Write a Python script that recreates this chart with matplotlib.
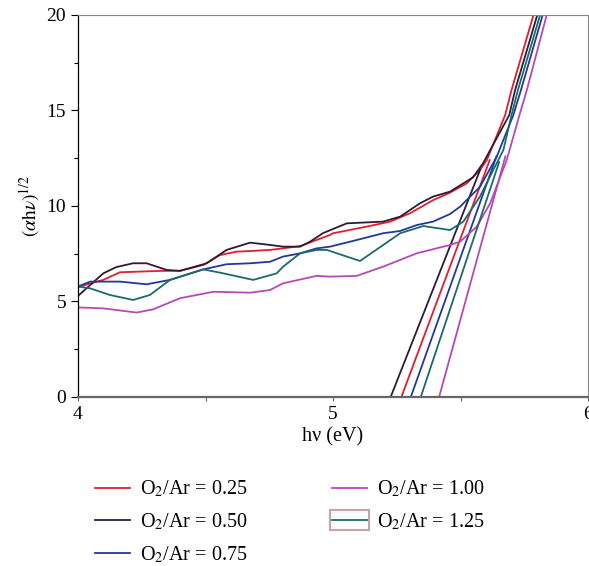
import numpy as np
import matplotlib
matplotlib.use('Agg')
import matplotlib.pyplot as plt
from matplotlib.patches import Rectangle
from matplotlib.ticker import MultipleLocator

plt.rcParams['font.family'] = ['Liberation Serif', 'DejaVu Serif']
plt.rcParams['mathtext.fontset'] = 'stix'

# Tauc curves: (hv in eV, (alpha h nu)^1/2)
x_025 = [4.0, 4.099, 4.165, 4.322, 4.400, 4.491, 4.557, 4.622, 4.675, 4.753, 4.804, 4.871,
         4.988, 5.0, 5.132, 5.224, 5.302, 5.392, 5.459, 5.524, 5.576, 5.603, 5.675, 5.70, 5.786]
y_025 = [5.76, 6.13, 6.53, 6.6, 6.61, 6.91, 7.43, 7.61, 7.64, 7.7, 7.78, 7.9,
         8.48, 8.57, 8.92, 9.18, 9.62, 10.3, 10.7, 11.18, 11.88, 12.4, 14.76, 16.07, 20.0]

x_050 = [4.0, 4.099, 4.15, 4.216, 4.269, 4.348, 4.400, 4.505, 4.583, 4.675, 4.753, 4.804, 4.871,
         4.910, 4.961, 5.054, 5.196, 5.263, 5.341, 5.392, 5.459, 5.549, 5.588, 5.691, 5.714, 5.801]
y_050 = [5.29, 6.47, 6.8, 7.0, 7.0, 6.65, 6.6, 7.0, 7.7, 8.08, 7.96, 7.87, 7.87,
         8.13, 8.58, 9.09, 9.18, 9.44, 10.14, 10.49, 10.75, 11.5, 12.23, 14.76, 16.07, 20.0]

x_075 = [4.0, 4.047, 4.165, 4.269, 4.361, 4.491, 4.583, 4.675, 4.753, 4.804, 4.871, 4.936,
         4.988, 5.067, 5.196, 5.263, 5.328, 5.392, 5.459, 5.498, 5.576, 5.642, 5.707, 5.737, 5.822]
y_075 = [5.78, 6.04, 6.04, 5.9, 6.13, 6.68, 6.95, 7.0, 7.08, 7.35, 7.52, 7.78,
         7.87, 8.13, 8.57, 8.69, 9.0, 9.18, 9.58, 9.96, 11.0, 12.58, 14.76, 16.07, 20.0]

x_100 = [4.0, 4.099, 4.230, 4.295, 4.400, 4.531, 4.675, 4.753, 4.804, 4.871, 4.936, 4.988,
         5.093, 5.196, 5.328, 5.459, 5.498, 5.564, 5.616, 5.681, 5.731, 5.760, 5.838]
y_100 = [4.69, 4.64, 4.42, 4.59, 5.17, 5.51, 5.46, 5.6, 5.95, 6.15, 6.34, 6.3,
         6.34, 6.82, 7.52, 7.96, 8.13, 8.92, 10.14, 12.4, 14.76, 16.07, 20.0]

x_125 = [4.0, 4.047, 4.125, 4.216, 4.282, 4.361, 4.491, 4.557, 4.687, 4.779, 4.804, 4.871,
         4.936, 4.975, 5.106, 5.263, 5.354, 5.459, 5.511, 5.576, 5.668, 5.700, 5.725, 5.812]
y_125 = [5.78, 5.69, 5.34, 5.08, 5.34, 6.13, 6.68, 6.51, 6.13, 6.47, 6.82, 7.52,
         7.7, 7.7, 7.12, 8.57, 8.95, 8.74, 9.18, 10.49, 12.93, 14.76, 16.07, 20.0]

# linear extrapolations: x-intercept (band gap), slope, top end of the line
fit_x0 = [5.268, 5.226, 5.305, 5.416, 5.344]
fit_slope = [35.8, 33.9, 37.5, 48.5, 40.0]
fit_ytop = [12.4, 11.9, 12.6, 12.6, 12.3]

labels = ['0.25', '0.50', '0.75', '1.00', '1.25']
colors = ['#e31d2f', '#2e1b35', '#22389c', '#b34ab6', '#1b6a6a']

curves = [(x_025, y_025), (x_050, y_050), (x_075, y_075), (x_100, y_100), (x_125, y_125)]

fig = plt.figure(figsize=(5.89, 5.66), dpi=100)
ax = fig.add_axes([0.1324, 0.2986, 0.866, 0.675])

handles = []
for (xs, ys), x0, k, yt, lab, c in zip(curves, fit_x0, fit_slope, fit_ytop, labels, colors):
    h, = ax.plot(xs, ys, color=c, lw=1.3, label=r'O$_2$/Ar = ' + lab)
    ax.plot([x0, x0 + yt / k], [0, yt], color=c, lw=1.3)
    handles.append(h)

ax.set_xlim(4, 6)
ax.set_ylim(0, 20)
ax.xaxis.set_major_locator(MultipleLocator(1))
ax.xaxis.set_minor_locator(MultipleLocator(0.5))
ax.yaxis.set_major_locator(MultipleLocator(5))
ax.yaxis.set_minor_locator(MultipleLocator(2.5))
ax.tick_params(axis='both', which='both', direction='out', labelsize=14)
ax.tick_params(axis='y', which='major', length=5, width=0.8)
ax.tick_params(axis='y', which='minor', length=3, width=0.8)
ax.tick_params(axis='x', which='both', length=3, width=0.8, color='#666666')
for s in ['top', 'right']:
    ax.spines[s].set_color('#888888')
    ax.spines[s].set_linewidth(0.8)
ax.spines['bottom'].set_color('#666666')
ax.spines['bottom'].set_linewidth(1.6)
ax.spines['left'].set_linewidth(0.9)

ax.set_xlabel('hν (eV)', fontsize=14.5, labelpad=3)
ax.set_ylabel(r'$(\alpha\mathrm{h}\nu)^{1/2}$', fontsize=14, labelpad=3)

leg = fig.legend(handles=handles, loc='upper left', bbox_to_anchor=(0.13, 0.186),
                 ncol=2, frameon=False, fontsize=14.5, handlelength=1.75,
                 handletextpad=0.5, columnspacing=4.2, labelspacing=0.6)

# the pink selection box drawn round the last legend key in the original
fig.canvas.draw()
bb = leg.legend_handles[4].get_window_extent().transformed(fig.transFigure.inverted())
pad_x, pad_y = 2 / 589, 10 / 566
fig.patches.append(Rectangle((bb.x0 - pad_x, bb.y0 - pad_y), bb.width + 2 * pad_x,
                             bb.height + 2 * pad_y, transform=fig.transFigure,
                             fill=False, edgecolor='#c9a3a3', lw=1.5))

plt.savefig('out.png', dpi=100)
